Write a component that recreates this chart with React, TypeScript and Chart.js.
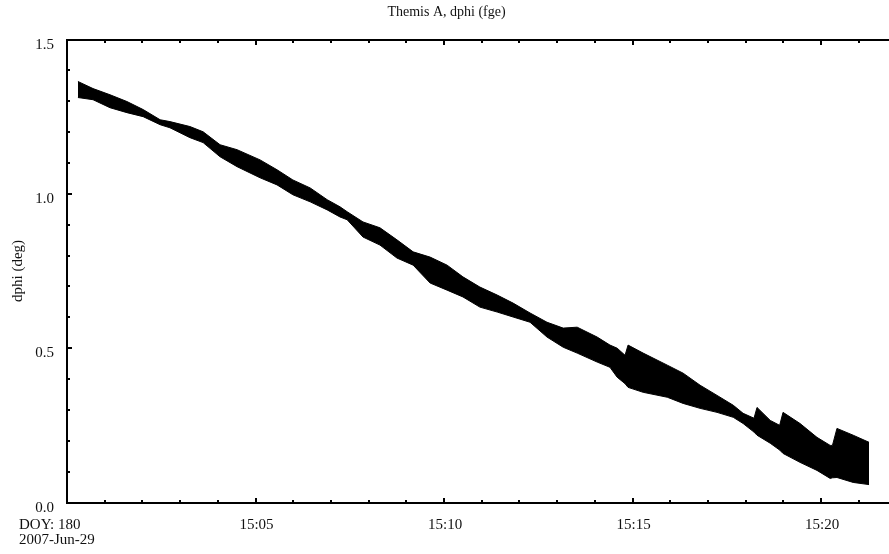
import React, { useEffect, useRef } from "react";
import { Chart, registerables } from "chart.js";

Chart.register(...registerables);

// minutes after 15:00 UT, DOY 180 (2007-Jun-29)
const timesMin: number[] = [
  0.29, 0.69, 1.14, 1.59, 2.02, 2.47, 2.73, 3.26, 3.61, 4.06, 4.51, 5.12, 5.57, 5.99,
  6.45, 6.9, 7.24, 7.43, 7.85, 8.3, 8.75, 9.18, 9.63, 10.08, 10.5, 10.95, 11.41, 11.83,
  12.28, 12.73, 13.16, 13.53, 14.06, 14.4, 14.59, 14.8, 14.88, 15.28, 15.92, 16.34,
  16.79, 17.24, 17.67, 17.93, 18.22, 18.3, 18.65, 18.9, 18.99, 19.44, 19.89, 20.24,
  20.3, 20.42, 20.85, 21.27,
];
// upper envelope of dphi (deg)
const dphiUpper: number[] = [
  1.364, 1.341, 1.321, 1.299, 1.273, 1.24, 1.234, 1.218, 1.201, 1.159, 1.143, 1.11, 1.078,
  1.045, 1.019, 0.981, 0.958, 0.942, 0.909, 0.89, 0.851, 0.812, 0.795, 0.769, 0.731, 0.698,
  0.672, 0.646, 0.614, 0.584, 0.565, 0.568, 0.536, 0.51, 0.5, 0.477, 0.51, 0.484, 0.445,
  0.419, 0.38, 0.347, 0.315, 0.289, 0.273, 0.308, 0.266, 0.25, 0.292, 0.256, 0.211, 0.185,
  0.185, 0.24, 0.218, 0.195,
];
// lower envelope of dphi (deg)
const dphiLower: number[] = [
  1.312, 1.305, 1.279, 1.263, 1.25, 1.224, 1.214, 1.182, 1.166, 1.12, 1.088, 1.052, 1.029,
  0.997, 0.974, 0.948, 0.925, 0.916, 0.86, 0.834, 0.792, 0.769, 0.711, 0.688, 0.666, 0.633,
  0.617, 0.601, 0.584, 0.536, 0.503, 0.484, 0.455, 0.438, 0.406, 0.385, 0.373, 0.357, 0.341,
  0.321, 0.305, 0.292, 0.276, 0.256, 0.228, 0.218, 0.192, 0.17, 0.159, 0.13, 0.104, 0.078,
  0.08, 0.081, 0.065, 0.058,
];

const xMajorTicks: number[] = [0, 5, 10, 15, 20];
const xMajorLabels: string[] = ["DOY: 180", "15:05", "15:10", "15:15", "15:20"];
const xFirstSubLabel = "2007-Jun-29";
const yMajorTicks: number[] = [0, 0.5, 1.0, 1.5];
const yMajorLabels: string[] = ["0.0", "0.5", "1.0", "1.5"];
const titleText = "Themis A, dphi (fge)";
const yAxisTitle = "dphi (deg)";

const FONT = "15px 'Liberation Serif', 'Times New Roman', serif";

export default function App() {
  const ref = useRef<HTMLCanvasElement | null>(null);

  useEffect(() => {
    const canvas = ref.current;
    if (!canvas) return;

    const framePlugin = {
      id: "framePlugin",
      afterDraw(chart: any) {
        const ctx = chart.ctx as CanvasRenderingContext2D;
        const xs = chart.scales.x;
        const ys = chart.scales.y;
        const a = chart.chartArea;
        const W = chart.width;
        ctx.save();
        ctx.fillStyle = "#000";
        const top = Math.round(a.top);
        const bot = Math.round(a.bottom);
        const left = Math.round(a.left);
        // frame
        ctx.fillRect(left - 1, top - 1, W - left + 1, 2);
        ctx.fillRect(left - 1, bot - 1, W - left + 1, 2);
        ctx.fillRect(left - 1, top - 1, 2, bot - top + 2);
        // x ticks (minor each minute, major each 5 min), inward top and bottom
        for (let m = 0; m <= Math.floor(xs.max); m++) {
          const px = Math.round(xs.getPixelForValue(m));
          const len = m % 5 === 0 ? 4 : 2;
          ctx.fillRect(px - 1, bot - 1 - len, 2, len);
          ctx.fillRect(px - 1, top + 1, 2, len);
        }
        // y ticks
        for (let k = 0; k <= 15; k++) {
          const v = k / 10;
          const py = Math.round(ys.getPixelForValue(v));
          const len = k % 5 === 0 ? 4 : 2;
          ctx.fillRect(left + 1, py - 1, len, 2);
        }
        ctx.font = FONT;
        ctx.fillStyle = "#111";
        // y labels
        ctx.textAlign = "right";
        ctx.textBaseline = "alphabetic";
        yMajorTicks.forEach((v, i) => {
          const py = ys.getPixelForValue(v);
          ctx.fillText(yMajorLabels[i], left - 13, py + 9);
        });
        // x labels
        xMajorTicks.forEach((m, i) => {
          const px = xs.getPixelForValue(m);
          if (i === 0) {
            ctx.textAlign = "left";
            ctx.fillText(xMajorLabels[i], 19, bot + 26);
            ctx.fillText(xFirstSubLabel, 19, bot + 41);
          } else {
            ctx.textAlign = "center";
            ctx.fillText(xMajorLabels[i], px + 1, bot + 26);
          }
        });
        // title
        ctx.textAlign = "center";
        ctx.textBaseline = "middle";
        ctx.font = "14px 'Liberation Serif', 'Times New Roman', serif";
        ctx.fillText(titleText, W / 2 + 2, 12);
        // y axis title
        ctx.font = FONT;
        ctx.translate(18, (a.top + a.bottom) / 2);
        ctx.rotate(-Math.PI / 2);
        ctx.fillText(yAxisTitle, 0, 0);
        ctx.restore();
      },
    };

    const chart = new Chart(canvas, {
      type: "line",
      data: {
        datasets: [
          {
            label: "upper",
            data: timesMin.map((t, i) => ({ x: t, y: dphiUpper[i] })),
            borderColor: "#000",
            backgroundColor: "#000",
            borderWidth: 1,
            pointRadius: 0,
            fill: "+1",
            tension: 0,
          },
          {
            label: "lower",
            data: timesMin.map((t, i) => ({ x: t, y: dphiLower[i] })),
            borderColor: "#000",
            backgroundColor: "#000",
            borderWidth: 1,
            pointRadius: 0,
            fill: false,
            tension: 0,
          },
        ],
      },
      options: {
        responsive: false,
        animation: false,
        devicePixelRatio: 1,
        layout: { padding: { left: 67, top: 39.5, right: 0, bottom: 51.5 } },
        scales: {
          x: { type: "linear", min: 0, max: 21.8, display: false },
          y: { type: "linear", min: 0, max: 1.5, display: false },
        },
        plugins: {
          legend: { display: false },
          tooltip: { enabled: false },
          title: { display: false },
        },
      },
      plugins: [framePlugin],
    });

    return () => chart.destroy();
  }, []);

  return (
    <div style={{ position: "absolute", left: 0, top: 0, width: 889, height: 554, overflow: "hidden", background: "#fff" }}>
      <canvas ref={ref} width={889} height={554} style={{ display: "block" }} />
    </div>
  );
}
